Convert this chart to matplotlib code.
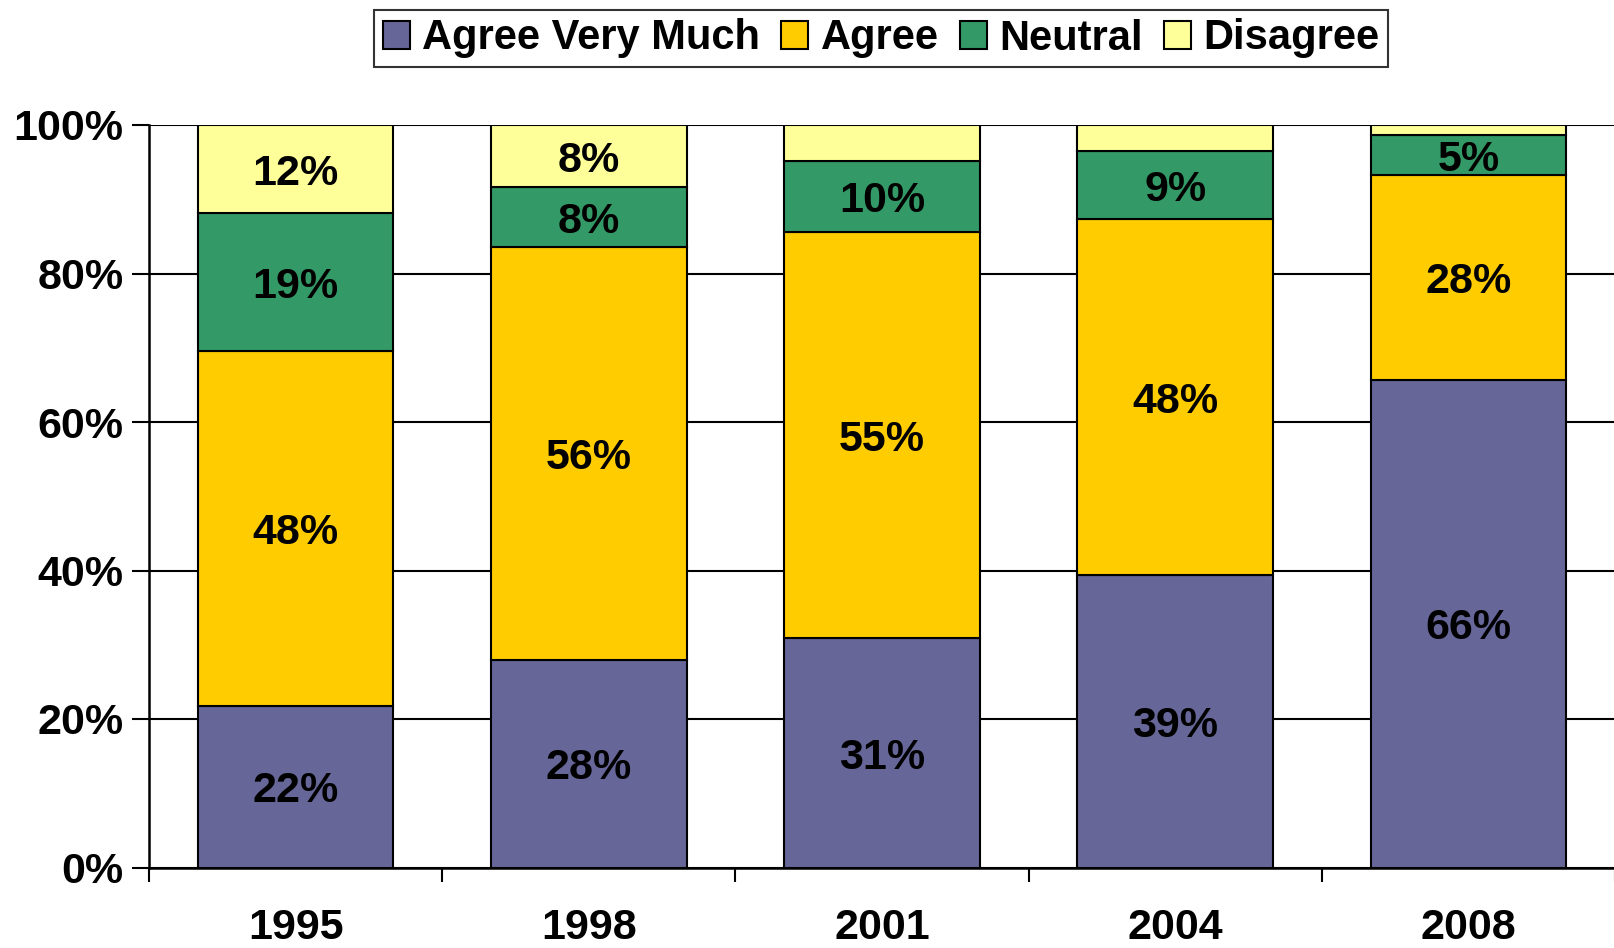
import matplotlib
matplotlib.use("Agg")
import matplotlib.pyplot as plt
import numpy as np

years = ["1995", "1998", "2001", "2004", "2008"]
series_names = ["Agree Very Much", "Agree", "Neutral", "Disagree"]
agree_very_much = [21.8, 28.0, 30.9, 39.4, 65.7]
agree = [47.7, 55.6, 54.7, 48.0, 27.6]
neutral = [18.6, 8.0, 9.6, 9.1, 5.4]
disagree = [11.9, 8.4, 4.8, 3.5, 1.3]
labels_avm = ["22%", "28%", "31%", "39%", "66%"]
labels_agree = ["48%", "56%", "55%", "48%", "28%"]
labels_neutral = ["19%", "8%", "10%", "9%", "5%"]
labels_disagree = ["12%", "8%", "", "", ""]
y_ticks = [0, 20, 40, 60, 80, 100]
y_tick_labels = ["0%", "20%", "40%", "60%", "80%", "100%"]

colors = ["#666699", "#FFCC00", "#339966", "#FFFF99"]
series = [agree_very_much, agree, neutral, disagree]
labels = [labels_avm, labels_agree, labels_neutral, labels_disagree]

plt.rcParams['font.family'] = ['Liberation Sans', 'DejaVu Sans']
plt.rcParams['font.weight'] = 'bold'

fig = plt.figure(figsize=(16.15, 9.48), dpi=100)
ax = fig.add_axes([149/1615, 1-867.5/948, 1-149/1615, (867.5-125)/948])

x = np.arange(len(years))
bottom = np.zeros(len(years))
handles = []
for vals, col, name, labs in zip(series, colors, series_names, labels):
    vals = np.array(vals)
    b = ax.bar(x, vals, bottom=bottom, width=0.667, color=col, edgecolor='black',
               linewidth=1.5, label=name, zorder=3)
    handles.append(b)
    for xi, bi, vi, lab in zip(x, bottom, vals, labs):
        if lab:
            ax.annotate(lab, (xi, bi + vi / 2), xytext=(0, -3.5),
                        textcoords='offset points', ha='center', va='center',
                        fontsize=31, fontweight='bold', zorder=4)
    bottom += vals

ax.set_xlim(-0.5, 4.5)
ax.set_ylim(0, 100)
ax.set_yticks(y_ticks)
ax.set_yticklabels(y_tick_labels, fontsize=31, fontweight='bold')
ax.yaxis.grid(True, color='black', linewidth=1.5, zorder=0)
ax.set_axisbelow(True)

ax.set_xticks(np.arange(-0.5, 4.6, 1.0))
ax.set_xticklabels([])
ax.set_xticks(x, minor=True)
ax.set_xticklabels(years, minor=True, fontsize=31, fontweight='bold')
ax.tick_params(axis='x', which='major', direction='out', length=10, width=1.5)
ax.tick_params(axis='x', which='minor', length=0, pad=29)
ax.tick_params(axis='y', direction='out', length=12, width=1.5, pad=6.5)

for s in ['top', 'right']:
    ax.spines[s].set_visible(False)
for s in ['left', 'bottom']:
    ax.spines[s].set_linewidth(1.8)

leg = fig.legend(handles=handles, labels=series_names, ncol=4,
                 loc='center', bbox_to_anchor=(881/1615, 1-38.5/948),
                 prop={'weight': 'bold', 'size': 30},
                 frameon=True, fancybox=False, edgecolor='black',
                 handlelength=0.65, handleheight=0.65, handletextpad=0.3,
                 columnspacing=0.5, borderpad=0.2, borderaxespad=0)
leg.get_frame().set_linewidth(1.5)

fig.savefig("out.png", dpi=100, facecolor='white')
